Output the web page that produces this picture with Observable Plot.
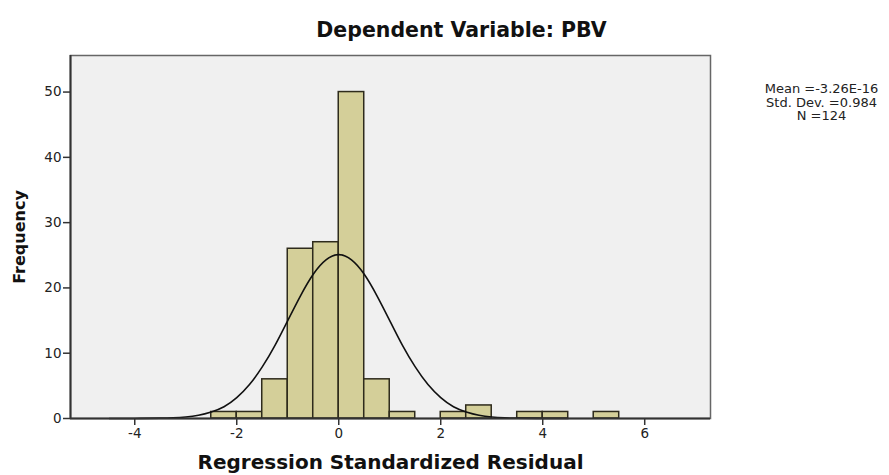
<!DOCTYPE html>
<html>
<head>
<meta charset="utf-8">
<script src="https://cdn.jsdelivr.net/npm/d3@7"></script>
<script src="https://cdn.jsdelivr.net/npm/@observablehq/plot@0.6"></script>
<style>
  body { margin: 0; background: #fff; }
</style>
</head>
<body>
<div id="chart"></div>
<script>
// Histogram bins (lower edge, upper edge) and frequencies
const binLo  = [-2.5, -2.0, -1.5, -1.0, -0.5, 0.0, 0.5, 1.0, 2.0, 2.5, 3.5, 4.0, 5.0];
const binHi  = [-2.0, -1.5, -1.0, -0.5,  0.0, 0.5, 1.0, 1.5, 2.5, 3.0, 4.0, 4.5, 5.5];
const counts = [1, 1, 6, 26, 27, 50, 6, 1, 1, 2, 1, 1, 1];

// Normal curve
const curveX = [-4.5, -4, -3.5, -3.25, -3, -2.75, -2.5, -2.25, -2, -1.75, -1.5, -1.25, -1, -0.75, -0.5, -0.25, 0,
                0.25, 0.5, 0.75, 1, 1.25, 1.5, 1.75, 2, 2.25, 2.5, 2.75, 3, 3.25, 3.5, 4, 4.5];
const curveY = [0, 0.01, 0.05, 0.11, 0.24, 0.5, 1.0, 1.8, 3.2, 5.2, 7.9, 11.2, 15.0, 18.8, 22.1, 24.3, 25.1,
                24.3, 22.1, 18.8, 15.0, 11.2, 7.9, 5.2, 3.2, 1.8, 1.0, 0.5, 0.24, 0.11, 0.05, 0.01, 0];

const xTicks = [-4, -2, 0, 2, 4, 6];
const yTicks = [0, 10, 20, 30, 40, 50];

const title = "Dependent Variable: PBV";
const xLabel = "Regression Standardized Residual";
const yLabel = "Frequency";
const stats = ["Mean =-3.26E-16", "Std. Dev. =0.984", "N =124"];

const bars = binLo.map((lo, i) => ({lo, hi: binHi[i], n: counts[i]}));
const curve = curveX.map((x, i) => ({x, y: curveY[i]}));

const font = "'DejaVu Sans', 'Liberation Sans', Arial, sans-serif";

const chart = Plot.plot({
  width: 889,
  height: 475,
  marginLeft: 70,
  marginRight: 179,
  marginTop: 55,
  marginBottom: 57,
  style: {fontFamily: font, background: "#fff"},
  x: {domain: [-5.26, 7.29], label: null},
  y: {domain: [0, 55.6], label: null},
  marks: [
    Plot.frame({fill: "#f0f0f0", stroke: "#666", strokeWidth: 1.5}),
    Plot.rectY(bars, {x1: "lo", x2: "hi", y: "n", fill: "#d4cf99", stroke: "#2e2b1c", strokeWidth: 1.5}),
    Plot.line(curve, {x: "x", y: "y", curve: "natural", stroke: "#111", strokeWidth: 1.6}),
    Plot.ruleY([0], {stroke: "#333", strokeWidth: 2}),
    Plot.ruleX([-5.26], {stroke: "#333", strokeWidth: 2}),
    Plot.axisX({ticks: xTicks, tickSize: 7, tickPadding: 3, fontSize: 13.5, stroke: "#333", strokeWidth: 1.5, fill: "#222", label: null, tickFormat: d => String(d)}),
    Plot.axisY({ticks: yTicks, tickSize: 7, tickPadding: 2, fontSize: 13.5, stroke: "#333", strokeWidth: 1.5, fill: "#222", label: null, tickFormat: d => String(d)}),
    Plot.text([title], {frameAnchor: "top-left", dx: 391, dy: -33, text: d => d, fontSize: 20.5, fontWeight: "bold", fill: "#111", textAnchor: "middle"}),
    Plot.text([xLabel], {frameAnchor: "bottom", dy: 50, text: d => d, fontSize: 20, fontWeight: "bold", fill: "#111", textAnchor: "middle"}),
    Plot.text([yLabel], {frameAnchor: "left", dx: -51, text: d => d, fontSize: 16, fontWeight: "bold", fill: "#111", rotate: -90, textAnchor: "middle"}),
    Plot.text([stats.join("\n")], {frameAnchor: "top-right", dx: 111, dy: 28, lineAnchor: "top", lineHeight: 1.05, text: d => d, fontSize: 13, fill: "#222", textAnchor: "middle"})
  ]
});
document.getElementById("chart").appendChild(chart);
</script>
</body>
</html>
